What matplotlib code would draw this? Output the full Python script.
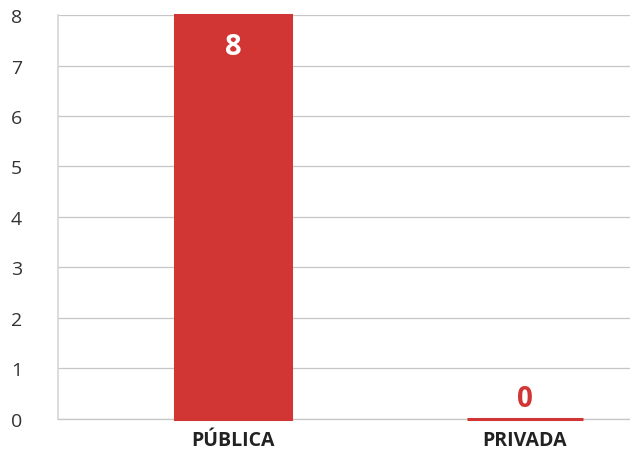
import matplotlib.pyplot as plt

categories = ['PÚBLICA', 'PRIVADA']
values = [8, 0]
yticks = [0, 1, 2, 3, 4, 5, 6, 7, 8]

bar_color = '#d13634'
grid_color = '#c6c6c6'

plt.rcParams['font.family'] = ['Open Sans', 'DejaVu Sans']

fig = plt.figure(figsize=(6.3, 4.52), dpi=100)
ax = fig.add_axes([0.092, 0.0708, 0.908, 0.8938])

x = list(range(len(categories)))
# edge line keeps a zero-height bar visible as a thin stroke on the baseline
bars = ax.bar(x, values, width=0.395, color=bar_color, edgecolor=bar_color,
              linewidth=2.2, zorder=3, clip_on=False)

ax.set_xlim(-0.6, 1.36)
ax.set_ylim(0, 8)
ax.set_yticks(yticks)
ax.yaxis.grid(True, color=grid_color, linewidth=0.9, zorder=0)
ax.set_axisbelow(True)

for side in ['top', 'right']:
    ax.spines[side].set_visible(False)
ax.spines['left'].set_color('#d6d6d6')
ax.spines['left'].set_linewidth(1.2)
ax.spines['bottom'].set_color(grid_color)
ax.spines['bottom'].set_linewidth(0.9)

ax.set_xticks(x)
ax.set_xticklabels(categories, fontsize=14, fontweight='bold', color='#222222')
ax.tick_params(axis='x', length=0, pad=8)
ax.tick_params(axis='y', length=0, pad=26, labelsize=14, labelcolor='#333333')

for bar, v in zip(bars, values):
    cx = bar.get_x() + bar.get_width() / 2
    if v > 0:
        ax.annotate(f'{v}', (cx, v), xytext=(0, -23), textcoords='offset points',
                    ha='center', va='center', fontsize=21, fontweight='bold',
                    color='white', zorder=4)
    else:
        ax.annotate(f'{v}', (cx, v), xytext=(0, 15), textcoords='offset points',
                    ha='center', va='center', fontsize=20, fontweight='bold',
                    color=bar_color, zorder=4)

fig.savefig('out.png', dpi=100)
